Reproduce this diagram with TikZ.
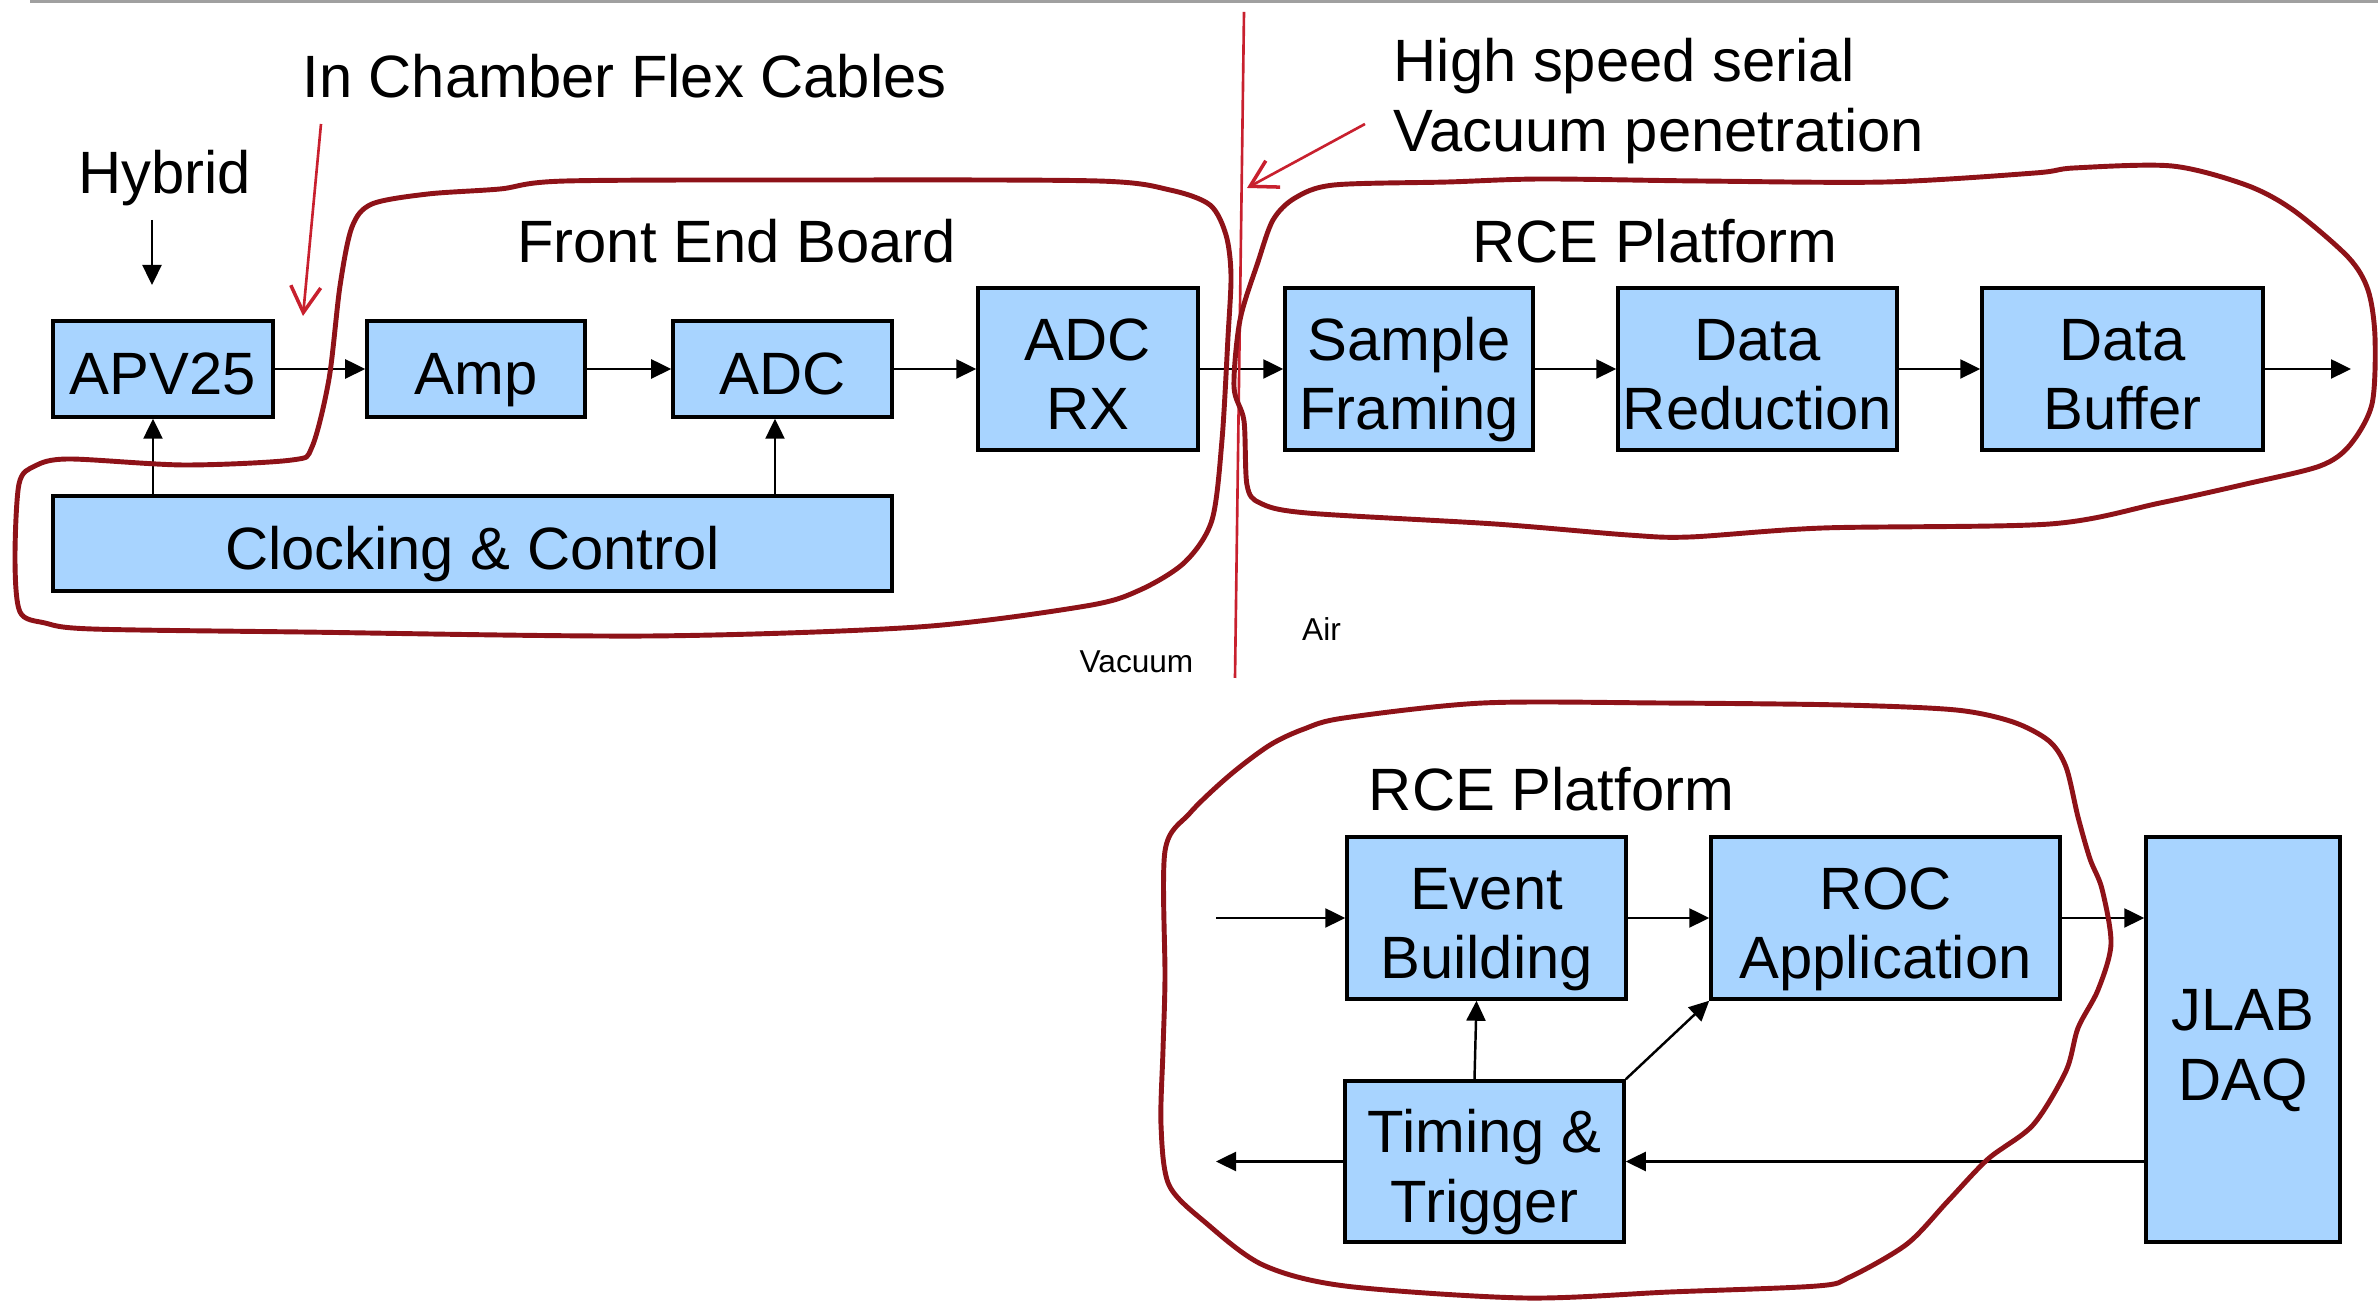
\documentclass[tikz,border=0pt]{standalone}
\usepackage{fontspec}
\setmainfont{Liberation Sans}
\usetikzlibrary{arrows.meta}
\definecolor{boxblue}{RGB}{168,212,255}
\definecolor{loopred}{RGB}{142,18,24}
\definecolor{linered}{RGB}{200,32,46}
\definecolor{rulegray}{RGB}{160,160,160}
% one line of a box label: fixed height and depth, text set slightly low
\newcommand\bl[1]{\rule[-0.21em]{0pt}{1.14em}\raisebox{-0.075em}[0pt][0pt]{#1}}
\tikzset{
  blk/.style={draw=black, line width=1pt, fill=boxblue, inner sep=0pt,
    align=center, font=\fontsize{17}{19.8}\selectfont},
  arr/.style={-{Triangle[length=2mm,width=1.9mm]}, line width=0.7pt},
  lbl/.style={font=\fontsize{17}{19.8}\selectfont, inner sep=0pt, anchor=base},
  smalllbl/.style={font=\fontsize{9}{11}\selectfont, inner sep=0pt, anchor=base},
  handloop/.style={draw=loopred, line width=1.4pt, line join=round},
  pointer/.style={draw=linered, line width=0.75pt,
    -{Straight Barb[length=2.6mm,width=3mm,line width=1pt]}},
}
\begin{document}
\begin{tikzpicture}[x=0.1mm, y=-0.1mm]
\useasboundingbox (0,0) rectangle (2378,1302);

% header rule
\draw[rulegray, line width=0.3mm] (30,1.5) -- (2378,1.5);

% ---- front end chain ----
\node[blk, minimum width=22mm, minimum height=9.6mm] (apv) at (163,369) {\bl{APV25}};
\node[blk, minimum width=21.8mm, minimum height=9.6mm] (amp) at (476,369) {\bl{Amp}};
\node[blk, minimum width=21.9mm, minimum height=9.6mm] (adc) at (782.5,369) {\bl{ADC}};
\node[blk, minimum width=22mm, minimum height=16.2mm] (adcrx) at (1088,369) {\bl{ADC}\\\bl{RX}};
\node[blk, minimum width=83.9mm, minimum height=9.5mm] (clk) at (472.5,543.5) {\bl{Clocking \& Control}};

% ---- RCE data path ----
\node[blk, minimum width=24.8mm, minimum height=16.2mm] (sample) at (1409,369) {\bl{Sample}\\\bl{Framing}};
\node[blk, minimum width=27.9mm, minimum height=16.2mm] (reduce) at (1757.5,369) {\bl{Data}\\\bl{Reduction}};
\node[blk, minimum width=28.1mm, minimum height=16.2mm] (buffer) at (2122.5,369) {\bl{Data}\\\bl{Buffer}};

% ---- event building platform ----
\node[blk, minimum width=27.9mm, minimum height=16.2mm] (event) at (1486.5,918) {\bl{Event}\\\bl{Building}};
\node[blk, minimum width=34.9mm, minimum height=16.2mm] (roc) at (1885.5,918) {\bl{ROC}\\\bl{Application}};
\node[blk, minimum width=19.4mm, minimum height=40.5mm] (jlab) at (2243,1039.5) {\bl{JLAB}\\\bl{DAQ}};
\node[blk, minimum width=27.9mm, minimum height=16.1mm] (timing) at (1484.5,1161.5) {\bl{Timing \&}\\\bl{Trigger}};

% ---- labels ----
\node[lbl] (flex) at (624.5,98) {In Chamber Flex Cables};
\node[lbl] (hyb) at (164.5,194) {Hybrid};
\node[lbl] (feb) at (736.5,263) {Front End Board};
\node[lbl, anchor=base west] (hss) at (1393,82) {High speed serial};
\node[lbl, anchor=base west] (vpen) at (1393,152) {Vacuum penetration};
\node[lbl] (rce1) at (1655,263) {RCE Platform};
\node[lbl] (rce2) at (1551.5,811) {RCE Platform};
\node[smalllbl] (vac) at (1136.5,673) {Vacuum};
\node[smalllbl] (air) at (1321.5,641) {Air};

% ---- free connector ends ----
\coordinate (h0) at (152,220);
\coordinate (h1) at (152,285);
\coordinate (bufout) at (2351,369);
\coordinate (evin) at (1216,918);
\coordinate (trigout) at (1216,1161.5);
\coordinate (flex0) at (321,124);
\coordinate (flex1) at (303,316);
\coordinate (pen0) at (1365,124);
\coordinate (pen1) at (1247,188);
\coordinate (wallt) at (1244,12);
\coordinate (wallb) at (1235,678);

% ---- connectors ----
\draw[arr] (h0) -- (h1);
\draw[arr] (apv) -- (amp);
\draw[arr] (amp) -- (adc);
\draw[arr] (adc) -- (adcrx);
\draw[arr] (adcrx) -- (sample);
\draw[arr] (sample) -- (reduce);
\draw[arr] (reduce) -- (buffer);
\draw[arr] (buffer) -- (bufout);
\draw[arr] ([xshift=-1mm]apv.south |- clk.north) -- ([xshift=-1mm]apv.south);
\draw[arr] ([xshift=-0.75mm]adc.south |- clk.north) -- ([xshift=-0.75mm]adc.south);

\draw[arr] (evin) -- (event);
\draw[arr] (event) -- (roc);
\draw[arr] (roc.east) -- (roc.east -| jlab.west);
\draw[arr] ([xshift=-1mm]timing.north) -- ([xshift=-1mm]event.south);
\draw[arr] (timing.north east) -- (roc.south west);
\draw[arr] (jlab.west |- timing.east) -- (timing.east);
\draw[arr] (timing) -- (trigout);

% ---- vacuum wall and pointers ----
\draw[linered, line width=0.75pt] (wallt) -- (wallb);
\draw[pointer] (flex0) -- (flex1);
\draw[pointer] (pen0) -- (pen1);

% ---- hand-drawn outlines ----
\draw[handloop] plot[smooth cycle, tension=0.5] coordinates {
  (566,181) (830,180) (1098,181) (1170,190) (1210,205) (1226,235) (1231,275)
  (1228,337) (1222,440) (1212,520) (1185,562) (1140,590) (1086,606) (918,627)
  (650,636) (300,632) (92,629) (45,623) (20,612) (15,560) (19,484) (35,466)
  (69,459) (184,465) (292,460) (312,447) (329,379) (340,286) (352,227)
  (372,204) (428,194) (500,189)};
\draw[handloop] plot[smooth cycle, tension=0.5] coordinates {
  (1334,185) (1448,182) (1542,179) (1700,181) (1886,182) (2035,173) (2074,168)
  (2172,166) (2246,185) (2293,210) (2348,257) (2368,290) (2375,337) (2372,404)
  (2350,445) (2320,466) (2246,484) (2160,503) (2050,524) (1823,528) (1690,537)
  (1628,535) (1495,524) (1307,513) (1260,503) (1247,485) (1244,421) (1234,387)
  (1240,320) (1258,262) (1273,220) (1295,198)};
\draw[handloop] plot[smooth cycle, tension=0.5] coordinates {
  (1483,703) (1660,703) (1842,705) (1956,710) (2013,722) (2049,741) (2066,767)
  (2078,817) (2090,859) (2102,889) (2111,944) (2098,990) (2078,1028) (2066,1071)
  (2033,1125) (1988,1159) (1948,1201) (1907,1244) (1850,1277) (1817,1286)
  (1670,1292) (1524,1298) (1345,1286) (1263,1265) (1206,1223) (1169,1185)
  (1161,1125) (1163,1050) (1165,978) (1165,851) (1190,813) (1230,775)
  (1270,745) (1304,729) (1344,718)};
\end{tikzpicture}
\end{document}
